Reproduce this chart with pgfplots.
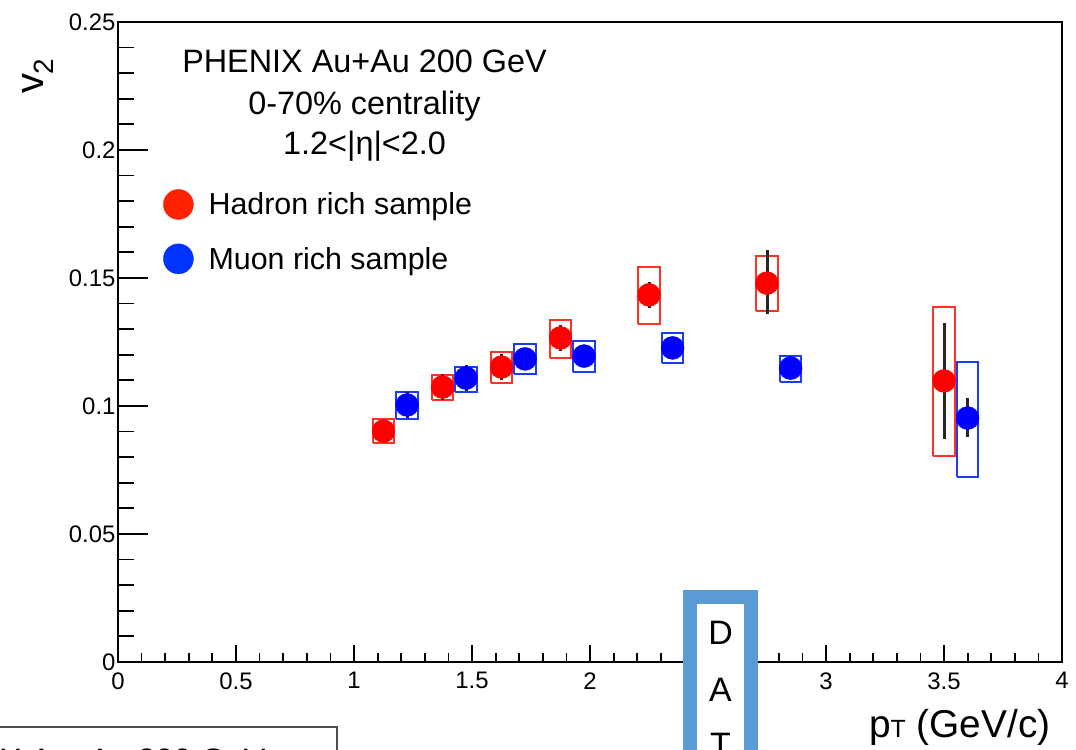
\documentclass[border=0pt]{standalone}
\usepackage{pgfplots}
\usepackage{pgfplotstable}
\pgfplotsset{compat=1.18}
\usepackage{fontspec}
\setmainfont{Liberation Sans}
\definecolor{mred}{RGB}{255,0,0}
\definecolor{mblue}{RGB}{0,0,255}
\definecolor{bred}{RGB}{255,51,34}
\definecolor{bblue}{RGB}{26,60,255}
\definecolor{lred}{RGB}{255,34,0}
\definecolor{lblue}{RGB}{0,51,255}
\definecolor{datblue}{RGB}{91,155,213}

\pgfplotstableread{
x     y      ep     em
1.125 0.0902 0.004  0.004
1.375 0.1074 0.005  0.005
1.625 0.1152 0.005  0.005
1.875 0.1266 0.005  0.005
2.25  0.1434 0.0050 0.0051
2.75  0.1480 0.0129 0.0121
3.5   0.1098 0.0226 0.0227
}\hadron

\pgfplotstableread{
x     y      ep     em
1.225 0.1004 0.005  0.005
1.475 0.1109 0.005  0.005
1.725 0.1184 0.004  0.004
1.975 0.1195 0.004  0.004
2.35  0.1227 0.004  0.004
2.85  0.1148 0.004  0.004
3.6   0.0953 0.0078 0.0074
}\muon

\begin{document}
\begin{tikzpicture}
\useasboundingbox (-118bp,-88bp) rectangle (958bp,662bp);
\clip (-118bp,-88bp) rectangle (958bp,662bp);
\pgfplotsset{common/.style={
  scale only axis, width=944bp, height=640bp,
  xmin=0, xmax=4, ymin=0, ymax=0.25,
  tick align=inside, xtick pos=bottom, ytick pos=left,
  tick style={line width=1.8bp, black},
  axis line style={line width=2.4bp},
  /pgf/number format/assume math mode=true,
}}
% y ticks (longer ticks)
\begin{axis}[common,
  xtick=\empty,
  ytick={0,0.05,0.1,0.15,0.2,0.25},
  minor y tick num=4,
  major tick length=30bp, minor tick length=16bp,
  axis line style={draw=none},
  yticklabel style={font=\fontsize{24}{24}\selectfont, xshift=1bp,
     /pgf/number format/.cd, fixed, precision=2},
]
\end{axis}
% main axis
\begin{axis}[common,
  ytick=\empty,
  xtick={0,0.5,1,1.5,2,2.5,3,3.5,4},
  xticklabels={0,0.5,1,1.5,2,,3,3.5,4},
  minor x tick num=4,
  major tick length=17bp, minor tick length=9bp,
  xticklabel style={font=\fontsize{24}{24}\selectfont, yshift=-7bp},
  legend style={at={(0.0477,0.739)}, anchor=north west, draw=none, fill=none,
     inner sep=0pt, font=\fontsize{30.5}{30.5}\selectfont, row sep=24bp,
     nodes={inner sep=0pt},
     /tikz/every odd column/.append style={column sep=15bp}},
  legend cell align=left,
  legend image code/.code={\fill[#1] (0bp,0bp) circle[radius=15bp];},
]
\addlegendimage{lred}
\addlegendentry{Hadron rich sample}
\addlegendimage{lblue}
\addlegendentry{Muon rich sample}

% systematic boxes
\addplot[bred, line width=2bp, unbounded coords=jump, forget plot] coordinates {
 (1.08,0.0855) (1.17,0.0855) (1.17,0.0949) (1.08,0.0949) (1.08,0.0855) (1.08,nan)
 (1.33,0.1023) (1.42,0.1023) (1.42,0.1121) (1.33,0.1121) (1.33,0.1023) (1.33,nan)
 (1.58,0.1090) (1.67,0.1090) (1.67,0.1211) (1.58,0.1211) (1.58,0.1090) (1.58,nan)
 (1.83,0.1188) (1.92,0.1188) (1.92,0.1336) (1.83,0.1336) (1.83,0.1188) (1.83,nan)
 (2.205,0.1320) (2.295,0.1320) (2.295,0.1543) (2.205,0.1543) (2.205,0.1320) (2.205,nan)
 (2.705,0.1371) (2.795,0.1371) (2.795,0.1586) (2.705,0.1586) (2.705,0.1371) (2.705,nan)
 (3.455,0.0805) (3.545,0.0805) (3.545,0.1387) (3.455,0.1387) (3.455,0.0805)
};
\addplot[bblue, line width=2bp, unbounded coords=jump, forget plot] coordinates {
 (1.18,0.0949) (1.27,0.0949) (1.27,0.1055) (1.18,0.1055) (1.18,0.0949) (1.18,nan)
 (1.43,0.1055) (1.52,0.1055) (1.52,0.1152) (1.43,0.1152) (1.43,0.1055) (1.43,nan)
 (1.68,0.1125) (1.77,0.1125) (1.77,0.1242) (1.68,0.1242) (1.68,0.1125) (1.68,nan)
 (1.93,0.1133) (2.02,0.1133) (2.02,0.1254) (1.93,0.1254) (1.93,0.1133) (1.93,nan)
 (2.305,0.1168) (2.395,0.1168) (2.395,0.1285) (2.305,0.1285) (2.305,0.1168) (2.305,nan)
 (2.805,0.1094) (2.895,0.1094) (2.895,0.1195) (2.805,0.1195) (2.805,0.1094) (2.805,nan)
 (3.555,0.0723) (3.645,0.0723) (3.645,0.1172) (3.555,0.1172) (3.555,0.0723)
};
% statistical error bars
\addplot[only marks, mark=none, forget plot,
  error bars/.cd, y dir=both, y explicit, error mark=none,
  error bar style={line width=3bp, black!85}]
  table[x=x, y=y, y error plus=ep, y error minus=em] {\hadron};
\addplot[only marks, mark=none, forget plot,
  error bars/.cd, y dir=both, y explicit, error mark=none,
  error bar style={line width=3bp, black!85}]
  table[x=x, y=y, y error plus=ep, y error minus=em] {\muon};
% markers
\addplot[only marks, mark=*, mark size=11.5bp, color=mred, forget plot] table[x=x, y=y] {\hadron};
\addplot[only marks, mark=*, mark size=11.5bp, color=mblue, forget plot] table[x=x, y=y] {\muon};
\end{axis}

% texts
\node[anchor=base, font=\fontsize{32.5}{32.5}\selectfont] at (246.5bp,589bp) {PHENIX Au+Au 200 GeV};
\node[anchor=base, font=\fontsize{32.5}{32.5}\selectfont] at (246.5bp,547bp) {0-70\% centrality};
\node[anchor=base, font=\fontsize{32.5}{32.5}\selectfont] at (246.5bp,507bp) {1.2<|η|<2.0};
\node[rotate=90, font=\fontsize{40}{40}\selectfont] at (-80bp,586bp) {v\textsubscript{2}};
\node[anchor=base east, font=\fontsize{39}{39}\selectfont] at (936bp,-75bp) {p{\fontsize{25}{25}\selectfont T} (GeV/c)};

% overlays at the bottom
\draw[gray!60!black, line width=1.5bp] (-130bp,-130bp) rectangle (219bp,-65bp);
\node[anchor=base east, font=\fontsize{32.5}{32.5}\selectfont] at (151bp,-109bp) {PHENIX Au+Au 200 GeV};
\draw[datblue, line width=14bp, fill=white] (572bp,-130bp) rectangle (633bp,65bp);
\node[anchor=base, font=\fontsize{34}{34}\selectfont] at (602.5bp,17.4bp) {D};
\node[anchor=base, font=\fontsize{34}{34}\selectfont] at (602.5bp,-39.6bp) {A};
\node[anchor=base, font=\fontsize{34}{34}\selectfont] at (602.5bp,-94.6bp) {T};
\end{tikzpicture}
\end{document}
